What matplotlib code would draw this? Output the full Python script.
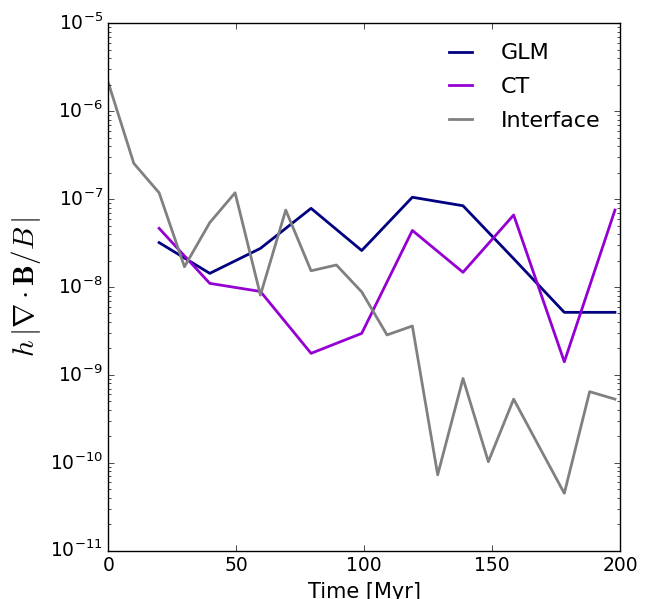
import matplotlib
matplotlib.use('Agg')
import matplotlib.pyplot as plt

# time samples [Myr]
t_interface = [0, 9.9, 19.8, 29.7, 39.6, 49.5, 59.4, 69.3, 79.2, 89.1, 99.0,
               108.9, 118.8, 128.7, 138.6, 148.5, 158.4, 168.3, 178.2, 188.1, 198.0]
t_glm = [19.8, 39.6, 59.4, 79.2, 99.0, 118.8, 138.6, 158.4, 178.2, 198.0]
t_ct = [19.8, 39.6, 59.4, 79.2, 99.0, 118.8, 138.6, 158.4, 178.2, 198.0]

# h |div B / B|
glm = [3.2e-8, 1.43e-8, 2.75e-8, 7.85e-8, 2.6e-8, 1.05e-7, 8.4e-8, 2.1e-8, 5.15e-9, 5.15e-9]
ct = [4.65e-8, 1.1e-8, 8.9e-9, 1.76e-9, 2.97e-9, 4.4e-8, 1.47e-8, 6.6e-8, 1.41e-9, 7.5e-8]
interface = [2.08e-6, 2.55e-7, 1.18e-7, 1.7e-8, 5.4e-8, 1.18e-7, 8.1e-9, 7.5e-8, 1.53e-8,
             1.78e-8, 8.8e-9, 2.85e-9, 3.6e-9, 7.3e-11, 9.1e-10, 1.03e-10, 5.3e-10,
             1.54e-10, 4.5e-11, 6.45e-10, 5.3e-10]

plt.style.use('classic')
plt.rcParams['font.family'] = ['DejaVu Sans']
plt.rcParams['mathtext.fontset'] = 'cm'

fig = plt.figure(figsize=(6.48, 5.99), dpi=100, facecolor='white')
ax = fig.add_axes([0.1674, 0.0806, 0.7895, 0.8805])

ax.plot(t_glm, glm, color='navy', lw=2, label='GLM')
ax.plot(t_ct, ct, color='darkviolet', lw=2, label='CT')
ax.plot(t_interface, interface, color='gray', lw=2, label='Interface')

ax.set_yscale('log')
ax.set_xlim(0, 200)
ax.set_ylim(1e-11, 1e-5)
ax.set_xticks([0, 50, 100, 150, 200])
ax.tick_params(labelsize=13.5)

ax.set_xlabel('Time [Myr]', fontsize=15)
ax.set_ylabel(r'$h\,|\nabla\cdot\mathbf{B}/B\,|$', fontsize=21)

ax.legend(loc='upper right', frameon=False, fontsize=16, handlelength=1.6,
          handletextpad=1.0, labelspacing=0.62)

fig.savefig('out.png', dpi=100, facecolor='white')
